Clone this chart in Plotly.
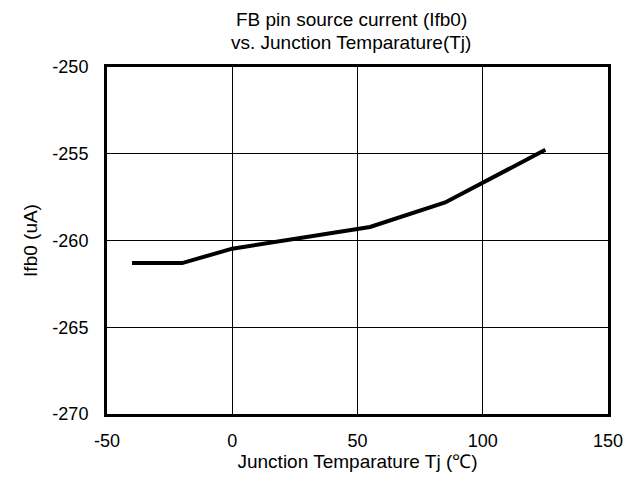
import plotly.graph_objects as go

tj = [-40, -20, 0, 55, 85, 125]
ifb0 = [-261.3, -261.3, -260.47, -259.22, -257.81, -254.77]
x_ticks = [-50, 0, 50, 100, 150]
y_ticks = [-270, -265, -260, -255, -250]

fig = go.Figure()
fig.add_trace(go.Scatter(x=tj, y=ifb0, mode="lines",
                         line=dict(color="black", width=4)))

fam = "Liberation Sans, Arial, sans-serif"
ft = dict(family=fam, size=18, color="black")
fa = dict(family=fam, size=19, color="black")

L, R, T, B = 99, 42, 59, 79
fig.update_layout(
    width=642, height=485,
    margin=dict(l=L, r=R, t=T, b=B, autoexpand=False),
    paper_bgcolor="white", plot_bgcolor="white",
    showlegend=False,
    font=ft,
    xaxis=dict(range=[-50, 150], tickvals=x_ticks,
               ticktext=[str(v) for v in x_ticks], tickfont=ft,
               showgrid=True, gridcolor="black", gridwidth=1,
               showline=True, linecolor="black", linewidth=3, mirror=True,
               zeroline=False, ticks="outside", ticklen=8, tickcolor="white",
               automargin=False,
               title=dict(text="Junction Temparature Tj (℃)", font=fa, standoff=4)),
    yaxis=dict(range=[-270, -250], tickvals=y_ticks,
               ticktext=[str(v) for v in y_ticks], tickfont=ft,
               showgrid=True, gridcolor="black", gridwidth=1,
               showline=True, linecolor="black", linewidth=3, mirror=True,
               zeroline=False, ticks="outside", ticklen=12, tickcolor="white",
               automargin=False,
               title=dict(text="Ifb0 (uA)", font=fa, standoff=10)),
    annotations=[
        dict(text="FB pin source current (Ifb0)", x=343, y=11, showarrow=False, font=fa),
        dict(text="vs. Junction Temparature(Tj)", x=343, y=35, showarrow=False, font=fa),
    ],
)
pw, ph = 642 - L - R, 485 - T - B
for a in fig.layout.annotations:
    px, py = a.x, a.y
    a.xref = "paper"; a.yref = "paper"
    a.x = (px - L) / pw
    a.y = 1 + (T - py) / ph
    a.xanchor = "center"
    a.yanchor = "middle"

fig.write_html("out.html")
